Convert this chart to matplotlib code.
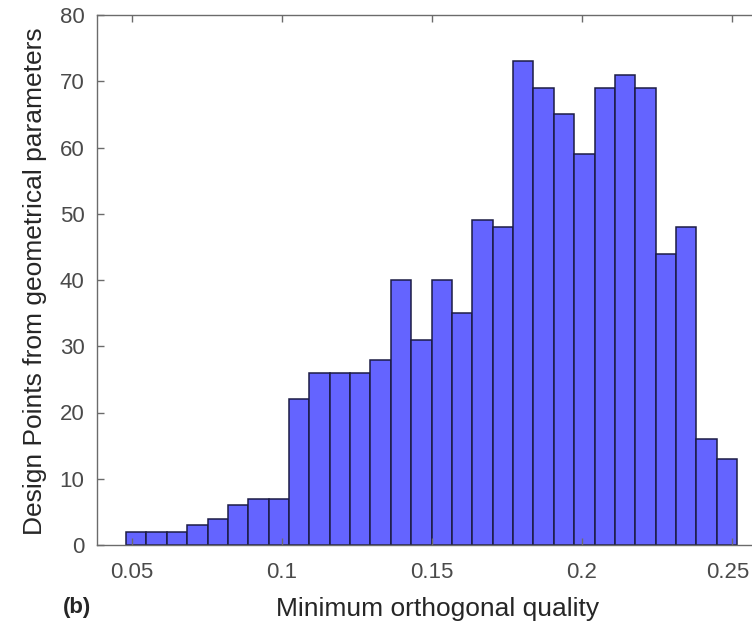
import numpy as np
import matplotlib
matplotlib.use("Agg")
import matplotlib.pyplot as plt
import matplotlib.transforms as mtransforms

plt.rcParams['font.family'] = ['Liberation Sans', 'DejaVu Sans']

# comptes par classe
counts = [2, 2, 2, 3, 4, 6, 7, 7, 22, 26, 26, 26, 28, 40, 31, 40, 35, 49, 48,
          73, 69, 65, 59, 69, 71, 69, 44, 48, 16, 13]
bin_lo = 0.048
bin_hi = 0.2517
x_ticks = [0.05, 0.1, 0.15, 0.2, 0.25]
x_tick_labels = ["0.05", "0.1", "0.15", "0.2", "0.25"]
y_ticks = [0, 10, 20, 30, 40, 50, 60, 70, 80]

edges = np.linspace(bin_lo, bin_hi, len(counts) + 1)

fig = plt.figure(figsize=(7.52, 6.27), dpi=100)
# axe qui depasse a droite (image recadree dans l'original)
ax = fig.add_axes([97 / 752, 82 / 627, 665 / 752, 530 / 627])

ax.bar(edges[:-1], counts, width=np.diff(edges), align='edge',
       color='#6464ff', edgecolor='#1c1c45', linewidth=1.1)

ax.set_xlim(0.0383, 0.26)
ax.set_ylim(0, 80)
ax.set_xticks(x_ticks)
ax.set_xticklabels(x_tick_labels)
ax.set_yticks(y_ticks)

for s in ax.spines.values():
    s.set_color('#6b6b6b')
    s.set_linewidth(1.0)
ax.tick_params(direction='in', length=5, width=1, colors='#6b6b6b',
               labelcolor='#4a4a4a', labelsize=16, top=True, right=True)
ax.tick_params(axis='x', pad=12)
ax.tick_params(axis='y', pad=9)

# le dernier label touche le bord : petit decalage a gauche
last = ax.get_xticklabels()[-1]
last.set_transform(last.get_transform() +
                   mtransforms.ScaledTranslation(-4 / 100, 0, fig.dpi_scale_trans))

fig.text(438 / 752, 1 - 609 / 627, "Minimum orthogonal quality", fontsize=19,
         color='#262626', ha='center', va='center')
fig.text(35 / 752, 1 - 281 / 627, "Design Points from geometrical parameters",
         fontsize=19, color='#262626', ha='center', va='center', rotation=90)
fig.text(77 / 752, 1 - 608 / 627, "(b)", fontsize=16, fontweight='bold',
         color='#262626', ha='center', va='center')

fig.savefig("out.png", dpi=100, facecolor='white')
